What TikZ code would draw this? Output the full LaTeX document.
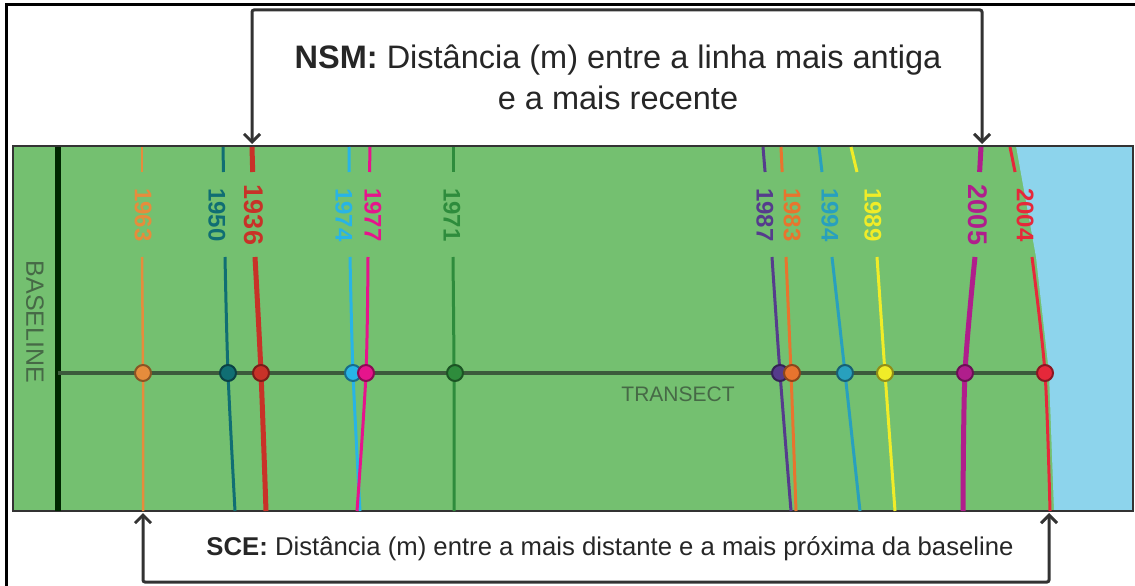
\documentclass[tikz,border=0pt]{standalone}
\usepackage{fontspec}
\setmainfont{Liberation Sans}
\usetikzlibrary{arrows.meta}
\definecolor{land}{RGB}{116,192,112}
\definecolor{sea}{RGB}{141,212,236}
\definecolor{ink}{RGB}{51,51,51}
\definecolor{trline}{RGB}{60,90,60}
\definecolor{trtext}{RGB}{70,105,70}
\definecolor{c63}{RGB}{230,140,60}
\definecolor{c50}{RGB}{16,110,115}
\definecolor{c36}{RGB}{200,50,40}
\definecolor{c74}{RGB}{40,180,230}
\definecolor{c77}{RGB}{230,20,140}
\definecolor{c71}{RGB}{46,140,60}
\definecolor{c87}{RGB}{85,60,140}
\definecolor{c83}{RGB}{232,116,46}
\definecolor{c94}{RGB}{40,160,190}
\definecolor{c89}{RGB}{240,236,40}
\definecolor{c05}{RGB}{176,30,140}
\definecolor{c04}{RGB}{230,40,58}
\tikzset{
  yearlbl/.style={rotate=-90, inner sep=0pt},
  dot/.style={circle, minimum size=16pt, inner sep=0pt, line width=2pt},
  bracket/.style={draw=ink, line width=3pt, rounded corners=2pt,
    >={Straight Barb[length=8pt,width=16pt]}, <->}
}

\begin{document}
\begin{tikzpicture}[x=1pt,y=-1pt]
    \useasboundingbox (0,0) rectangle (1135,586);
    \draw[line width=3pt] (6,586) -- (6,5) -- (1135,5);
    \fill[land] (13,146) rectangle (1133,511);
    \fill[sea] (1016,146) -- (1036,257) -- (1049,373) -- (1054,511)
      -- (1133,511) -- (1133,146) -- cycle;
    \draw[ink, line width=1.5pt] (13,146) rectangle (1133,511);
    \coordinate (bl1) at (58,147);
    \coordinate (bl2) at (58,511);
    \draw[black!85!green, line width=6pt] (bl1) -- (bl2);
    \node[yearlbl, text=trtext, font=\fontsize{25}{25}\selectfont] (baseline) at (35,322) {BASELINE};
    \foreach \yr/\col/\xa/\xl/\xb/\xc/\xd/\w/\fs in {
      1963/c63/142/143/142/143/143/2.5/24, 1950/c50/223/217/225/228/235/3/24,
      1936/c36/252/254/255/261/266/5/27, 1974/c74/349/344/350/353/360/3/24,
      1977/c77/370/373/368/366/357/3/24, 1971/c71/453/452/453/454/454/3/24,
      1987/c87/763/765/772/780/791/3/24, 1983/c83/781/792/786/791/796/3/24,
      1994/c94/819/830/832/845/860/3/24, 1989/c89/851/873/877/885/895/3/24,
      2005/c05/981/978/975/965/963/5/27, 2004/c04/1010/1025/1032/1045/1050/3/24} {
      \draw[\col, line width=\w pt] (\xa,147) -- ({\xa+(\xb-\xa)*0.23},172);
      \draw[\col, line width=\w pt] plot[smooth] coordinates {(\xb,257) (\xc,373) (\xd,511)};
      \node[yearlbl, text=\col, font=\bfseries\fontsize{\fs}{\fs}\selectfont] (l\yr) at (\xl,215) {\yr};
    }
    \coordinate (t0) at (58,373);
    \node[dot] (d2004) at (1045,373) {};
    \draw[trline, line width=4pt] (t0) -- (d2004.center);
    \foreach \yr/\col/\xc in {1963/c63/143, 1950/c50/228, 1936/c36/261, 1974/c74/353,
      1977/c77/366, 1971/c71/455, 1987/c87/780, 1983/c83/792, 1994/c94/845,
      1989/c89/885, 2005/c05/965, 2004/c04/1045}
      \node[dot, fill=\col, draw=\col!60!black] (d\yr) at (\xc,373) {};
    \node[text=trtext, font=\fontsize{21}{21}\selectfont] (transect) at (678,394) {TRANSECT};
    \coordinate (t1936) at (252,144);
    \coordinate (t2005) at (982,144);
    \coordinate (nsmL) at (252,10);
    \coordinate (nsmR) at (982,10);
    \draw[bracket] (t1936) -- (nsmL) -- (nsmR) -- (t2005);
    \node[anchor=base, align=center, text=black!85, font=\fontsize{32.5}{42}\selectfont] (nsm) at (618,110)
      {\textbf{NSM:} Distância (m) entre a linha mais antiga\\e a mais recente};
    \coordinate (b1963) at (143,513);
    \coordinate (b2004) at (1049,513);
    \coordinate (sceL) at (143,582);
    \coordinate (sceR) at (1049,582);
    \draw[bracket] (b1963) -- (sceL) -- (sceR) -- (b2004);
    \node[anchor=base, text=black!85, font=\fontsize{25.7}{26}\selectfont] (sce) at (610,555)
      {\textbf{SCE:} Distância (m) entre a mais distante e a mais próxima da baseline};
  \end{tikzpicture}
\end{document}
